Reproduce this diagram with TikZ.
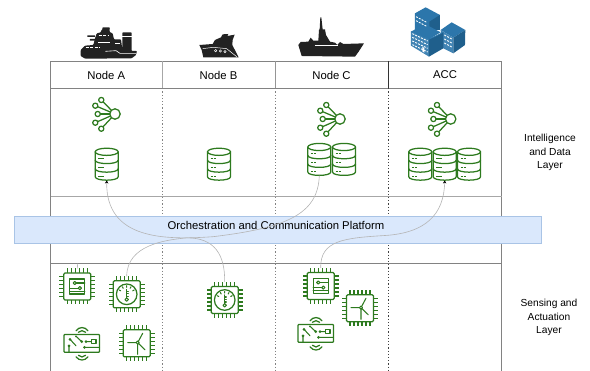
\documentclass[tikz,border=0pt]{standalone}
\usepackage{fontspec}
\setmainfont{Liberation Sans}
\usetikzlibrary{arrows.meta}
\definecolor{grn}{HTML}{2D7A1E}
\definecolor{tbl}{HTML}{828282}
\definecolor{cur}{HTML}{B4B4B4}
\definecolor{plfill}{HTML}{DAE8FC}
\definecolor{pldraw}{HTML}{A9C4E6}
\definecolor{shipc}{HTML}{222222}
\definecolor{bl}{HTML}{2C76AB}
\definecolor{bldark}{HTML}{1F5F8C}
\tikzset{
  x=1pt,y=-1pt,
  icon/.style={draw=grn,line width=1.25pt,line cap=round,line join=round},
  tblline/.style={draw=tbl,line width=0.9pt},
  dotline/.style={draw=tbl,line width=0.9pt,dash pattern=on 1.2pt off 2pt},
  headcell/.style={font=\fontsize{11.3}{13}\selectfont,inner sep=0pt},
  sidetext/.style={font=\fontsize{10.2}{13.5}\selectfont,align=center,inner sep=0pt},
  iconbox/.style={inner sep=0pt,outer sep=0pt,minimum width=#1,minimum height=#1},
  dbbox/.style={inner sep=0pt,outer sep=0pt,minimum width=23,minimum height=33},
  link/.style={draw=cur,line width=0.6pt},
  linkarrow/.style={link,-{Stealth[length=3pt,width=3.5pt,color=black]}},
  pics/dbicon/.style={code={
    \draw[icon,fill=white] (-11.5,-12.2) -- (-11.5,12.8) .. controls (-11.5,17.3) and (11.5,17.3) .. (11.5,12.8) -- (11.5,-12.2);
    \draw[icon,fill=white] (0,-12.2) ellipse [x radius=11.5,y radius=3.6];
    \foreach \yy in {-3.8,4.8} \draw[icon] (-11.5,\yy) .. controls (-11.5,\yy+4.5) and (11.5,\yy+4.5) .. (11.5,\yy);
    \foreach \yy in {-5.4,3.4,12.2} \draw[draw=grn,line width=1.2pt,dash pattern=on 2.2pt off 0.8pt] (-8.4,\yy) -- (-3,\yy);
  }},
  pics/neticon/.style={code={
    \foreach \xx/\yy in {-13.7/-14,-19.7/-8.3,-17.3/0,-19.7/8.7,-13.7/14.7}{
      \draw[icon] (0,0) -- (\xx,\yy);
      \draw[icon,fill=white] (\xx,\yy) circle (2.6);
    }
    \draw[icon,fill=white] (0,0) circle (5.2);
  }},
  pics/chipbody/.style={code={
    \foreach \tt in {-10,-6,-2,2,6,10}{
      \draw[icon,line width=1.05pt,line cap=butt] (\tt,-13.5) -- (\tt,-18);
      \draw[icon,line width=1.05pt,line cap=butt] (\tt,13.5) -- (\tt,18);
      \draw[icon,line width=1.05pt,line cap=butt] (-13.5,\tt) -- (-18,\tt);
      \draw[icon,line width=1.05pt,line cap=butt] (13.5,\tt) -- (18,\tt);
    }
    \draw[icon,fill=white,rounded corners=1.2pt] (-13.5,-13.5) rectangle (13.5,13.5);
  }},
  pics/chipcircuit/.style={code={
    \pic {chipbody};
    \draw[icon] (-7.5,-7.5) rectangle (7.5,7.5);
    \draw[icon,line width=1.05pt] (-2.5,-3.5) -- (7.5,-3.5) (2.6,1.6) -- (-7.5,1.6) (-7.5,4.9) -- (7.5,4.9);
    \draw[icon,line width=1.05pt,fill=white] (-2.5,-3.5) circle (1.6) (2.6,1.6) circle (1.6);
  }},
  pics/chipgauge/.style={code={
    \pic {chipbody};
    \draw[icon] (0,0) circle (10.3);
    \draw[icon,line width=1.05pt] (0,-5) -- (0,3.6);
    \draw[icon,line width=1.05pt] (0,-3) -- (1.6,-3) (0,-0.5) -- (1.6,-0.5) (0,2) -- (1.6,2);
    \draw[icon,line width=1.05pt] (0,5.3) circle (1.7);
    \draw[icon,line width=1.05pt] (-7.5,-4.3) -- (-6,-3.5) (-4.3,-7.5) -- (-3.5,-6) (0,-8.6) -- (0,-7) (4.3,-7.5) -- (3.5,-6) (7.5,-4.3) -- (6,-3.5);
  }},
  pics/chipwind/.style={code={
    \pic {chipbody};
    \draw[icon,line width=1.05pt] (1,-0.7) -- (6,-10) (1,-0.7) -- (8.3,6.5) (1,-0.7) -- (-9,-0.7) (1,-0.7) -- (1,11);
    \draw[icon,line width=1.05pt,fill=white] (1,-0.7) circle (1.6);
  }},
  pics/boardicon/.style={code={
    \draw[icon,rounded corners=0.8pt] (-18,-8.8) rectangle (17.5,9);
    \draw[icon] (-6,-12.5) .. controls (-3,-16.8) and (3,-16.8) .. (6,-12.5);
    \draw[icon] (-3.6,-11) .. controls (-1.5,-13.2) and (1.5,-13.2) .. (3.6,-11);
    \draw[icon] (-6,13.5) .. controls (-3,17.8) and (3,17.8) .. (6,13.5);
    \draw[icon] (-3.6,12) .. controls (-1.5,14.2) and (1.5,14.2) .. (3.6,12);
    \draw[icon,line width=1.05pt] (-12,-4) -- (-6,2.5) (-6,-7) -- (-0.3,-1.7) (4,-1.7) -- (9.5,-1.7) (2.5,4) -- (17.5,4) (-13,2.7) -- (-13,9);
    \fill[grn] (-12,-4) circle (1.5) (-6,-7) circle (1) (-0.3,-1.7) circle (1.5) (4,-1.7) circle (1.5) (2.5,4) circle (1.5) (-13,2.7) circle (1.5);
    \draw[icon,line width=1.05pt] (9.3,-4) rectangle (14,0.6);
  }},
  pics/shipA/.style={code={
    \begin{scope}[x=0.3333pt,y=-0.3333pt]
    \fill[shipc,rounded corners=0.8pt] (122,150)--(135,137)--(160,135)--(165,115)--(170,100)--(183,97)--(183,90)--(187,90)--(187,82)--(210,82)--(208,90)--(210,97)--(218,100)--(222,118)--(243,118)--(247,148)--(247,97)--(275,97)--(275,153)--(291,153)--(288,165)--(275,175)--(135,176)--(122,168)--cycle;
    \fill[shipc] (142,106) rectangle (165,111) (150,117) rectangle (165,122);
    \draw[white,line width=0.6pt] (247,108)--(275,108) (225,130)--(240,130) (175,128)--(210,128);
    \draw[white,line width=0.6pt] (196,154)--(228,152)--(240,160)--(288,160);
    \draw[white,line width=0.9pt,dash pattern=on 3pt off 1.5pt] (137,143)--(180,143);
    \draw[white,line width=0.9pt,dash pattern=on 3pt off 1.5pt] (176,107)--(205,107);
    \end{scope}
  }},
  pics/shipB/.style={code={
    \begin{scope}[x=0.3333pt,y=-0.3333pt]
    \fill[shipc] (478,135)--(518,132)--(525,120)--(543,112)--(548,103)--(565,102)--(562,108)--(584,104)--(578,120)--(577,135)--(596,172)--(490,172)--(485,150)--cycle;
    \draw[white,line width=0.5pt] (488,146)--(520,142)--(560,146)--(590,170);
    \draw[white,line width=0.5pt] (527,152) circle (3.5) (541,153) circle (3.5) (555,155) circle (3.5);
    \end{scope}
  }},
  pics/shipC/.style={code={
    \begin{scope}[x=0.3333pt,y=-0.3333pt]
    \fill[shipc] (121,52)--(124,52)--(128,88)--(135,88)--(138,105)--(150,125)--(165,128)--(172,135)--(180,126)--(190,132)--(252,130)--(236,155)--(225,170)--(65,168)--(55,135)--(62,126)--(85,125)--(92,113)--(100,122)--(115,122)--(117,90)--(119,88)--cycle;
    \draw[white,line width=0.3pt] (105,135)--(175,135);
    \end{scope}
  }},
  pics/acc/.style={code={
    \begin{scope}[x=0.3333pt,y=-0.3333pt]
    \fill[bl] (405,40)--(437,22)--(480,45)--(480,90)--(405,90)--cycle;
    \fill[bldark] (448,65)--(480,45)--(480,90)--(448,90)--cycle;
    \fill[bl] (482,90)--(515,67)--(556,90)--(520,113)--cycle;
    \fill[bl!90!white] (482,90)--(520,113)--(520,160)--(490,145)--cycle;
    \fill[bldark] (520,113)--(556,90)--(555,135)--(520,160)--cycle;
    \fill[bl] (393,95)--(435,72)--(482,97)--(447,118)--cycle;
    \fill[bl!90!white] (393,95)--(447,118)--(447,170)--(393,137)--cycle;
    \fill[bldark] (447,118)--(490,97)--(490,145)--(447,170)--cycle;
    \foreach \dd in {0,11,22,33}
      \draw[white,line width=0.9pt,dash pattern=on 2pt off 1.2pt] (397,101+\dd)--(443,123+\dd);
    \foreach \dd in {0,12,24}
      \draw[white,line width=0.9pt,dash pattern=on 2pt off 1.2pt] (493,105+\dd)--(517,118+\dd);
    \foreach \dd in {0,12}
      \draw[white,line width=0.9pt,dash pattern=on 2pt off 1.2pt] (408,50+\dd)--(440,67+\dd);
    \draw[bl,line width=0.7pt] (393,95)--(447,118)--(490,97);
    \fill[white] (427,140)--(433,144)--(433,158)--(427,154)--cycle;
    \end{scope}
  }}
}
\begin{document}
\begin{tikzpicture}
\useasboundingbox (0,0) rectangle (590,371);
\draw[tblline] (50.7,371) -- (50.7,61) -- (501.7,61) -- (501.7,371);
\draw[tblline] (50.7,88.3) -- (501.7,88.3);
\draw[tblline,draw=tbl!70] (50.7,196) -- (501.7,196);
\draw[tblline] (50.7,263.6) -- (501.7,263.6);
\draw[tblline,draw=tbl!70] (162.5,61) -- (162.5,88.3);
\draw[tblline,draw=tbl!85] (275.5,61) -- (275.5,88.3);
\draw[tblline,draw=black!80] (388.5,61) -- (388.5,88.3);
\draw[dotline] (162.5,88.3) -- (162.5,371);
\draw[dotline] (275.5,88.3) -- (275.5,371);
\draw[dotline,draw=black!75] (388.5,88.3) -- (388.5,371);
\node[headcell] (hA) at (106.3,75) {Node A};
\node[headcell] (hB) at (218.5,75) {Node B};
\node[headcell] (hC) at (331.5,75) {Node C};
\node[headcell] (hD) at (445,75) {ACC};
\node[sidetext] (lay1) at (550,152.5) {Intelligence\\and Data\\Layer};
\node[sidetext] (lay2) at (549,317.5) {Sensing and\\Actuation\\Layer};
\pic at (40,0) {shipA};
\pic at (40,0) {shipB};
\pic at (280,0) {shipC};
\pic at (280,0) {acc};
\node[draw=pldraw,fill=plfill,line width=0.8pt,minimum width=527.5,minimum height=27,inner sep=0pt] (platform) at (277.8,229.7) {};
\node[headcell] (ptext) at (276,225.8) {Orchestration and Communication Platform};
\node[iconbox=30] (netA) at (115,114) {}; \pic at (netA) {neticon};
\node[iconbox=30] (netC) at (340,119) {}; \pic at (netC) {neticon};
\node[iconbox=30] (netD) at (450.7,119) {}; \pic at (netD) {neticon};
\node[dbbox] (dbA) at (106.7,164) {}; \pic at (dbA) {dbicon};
\node[dbbox] (dbB) at (219,164) {}; \pic at (dbB) {dbicon};
\node[dbbox] (dbC) at (319.3,159.2) {}; \pic at (dbC) {dbicon};
\node[dbbox] (dbCb) at (344,159.2) {}; \pic at (dbCb) {dbicon};
\node[dbbox] (dbDa) at (420.3,164) {}; \pic at (dbDa) {dbicon};
\node[dbbox] (dbD) at (444.7,164) {}; \pic at (dbD) {dbicon};
\node[dbbox] (dbDc) at (469,164) {}; \pic at (dbDc) {dbicon};
\node[iconbox=36] (chA1) at (77.3,286.5) {}; \pic at (chA1) {chipcircuit};
\node[iconbox=36] (chA2) at (126.7,294.3) {}; \pic at (chA2) {chipgauge};
\node[iconbox=36] (chB) at (224.7,300) {}; \pic at (chB) {chipgauge};
\node[iconbox=36] (chC1) at (320.7,286) {}; \pic at (chC1) {chipcircuit};
\node[iconbox=36] (wiA) at (136.7,343.3) {}; \pic at (wiA) {chipwind};
\node[iconbox=36] (wiC) at (360,308.3) {}; \pic at (wiC) {chipwind};
\node[iconbox=36] (boA) at (82,343.3) {}; \pic at (boA) {boardicon};
\node[iconbox=36] (boC) at (316,333.3) {}; \pic at (boC) {boardicon};
\coordinate (stubA) at (77.7,263.6);
\coordinate (midAC) at (213,236.7);
\coordinate (midAB) at (187,237.8);
\coordinate (midCD) at (385,235.5);
\draw[link] (chA1.north) -- (stubA);
\draw[linkarrow] (dbC.south) .. controls (318,215) and (285,228) .. (midAC) .. controls (165,240) and (106,240) .. (dbA.south);
\draw[link] (chA2.north) .. controls (127,245) and (165,240) .. (midAB) .. controls (215,238) and (225,255) .. (chB.north);
\draw[linkarrow] (chC1.north) .. controls (320,240) and (345,238) .. (midCD) .. controls (425,233) and (444,215) .. (dbD.south);
\end{tikzpicture}
\end{document}
